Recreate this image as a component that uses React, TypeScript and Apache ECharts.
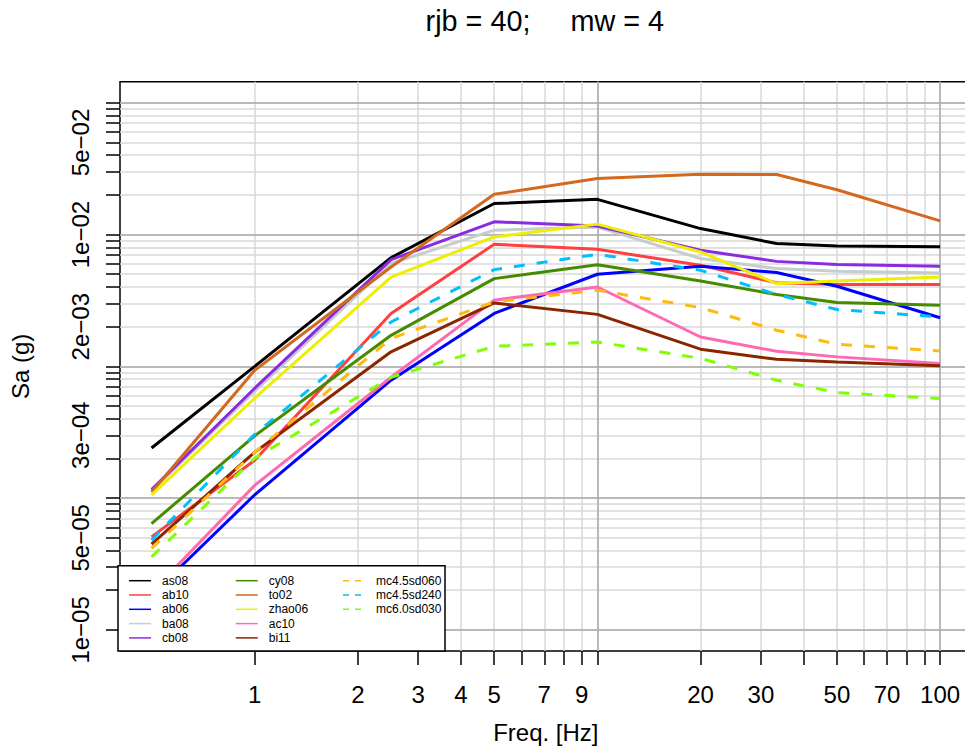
import React, { useEffect, useRef } from 'react';
import * as echarts from 'echarts';

// ---------- data ----------
const titleText = 'rjb = 40;     mw = 4';
const xName = 'Freq. [Hz]';
const yName = 'Sa (g)';

const freqs = [0.5, 1, 2.5, 5, 10, 20, 33.33, 50, 100];

const as08 = [2.4e-4, 1.0e-3, 6.68e-3, 1.72e-2, 1.85e-2, 1.11e-2, 8.55e-3, 8.2e-3, 8.1e-3];
const ab10 = [5.08e-5, 1.94e-4, 2.52e-3, 8.44e-3, 7.73e-3, 5.85e-3, 4.31e-3, 4.18e-3, 4.18e-3];
const ab06 = [1.84e-5, 1.06e-4, 7.85e-4, 2.52e-3, 5.0e-3, 5.74e-3, 5.15e-3, 4.05e-3, 2.34e-3];
const ba08 = [1.14e-4, 6.47e-4, 6.03e-3, 1.08e-2, 1.14e-2, 6.58e-3, 5.52e-3, 5.27e-3, 5.11e-3];
const cb08 = [1.16e-4, 6.82e-4, 6.45e-3, 1.25e-2, 1.16e-2, 7.6e-3, 6.26e-3, 5.92e-3, 5.74e-3];
const cy08 = [6.41e-5, 2.97e-4, 1.72e-3, 4.63e-3, 5.91e-3, 4.45e-3, 3.51e-3, 3.05e-3, 2.91e-3];
const to02 = [1.11e-4, 9.33e-4, 5.68e-3, 2.02e-2, 2.66e-2, 2.87e-2, 2.86e-2, 2.19e-2, 1.27e-2];
const zhao06 = [1.06e-4, 5.73e-4, 4.76e-3, 9.6e-3, 1.2e-2, 7.38e-3, 4.25e-3, 4.45e-3, 4.76e-3];
const ac10 = [1.93e-5, 1.25e-4, 8.26e-4, 3.18e-3, 4.0e-3, 1.67e-3, 1.3e-3, 1.18e-3, 1.05e-3];
const bi11 = [4.47e-5, 2.23e-4, 1.29e-3, 3.03e-3, 2.48e-3, 1.35e-3, 1.13e-3, 1.08e-3, 1.01e-3];
const mc45sd060 = [4.15e-5, 2.23e-4, 1.63e-3, 3.08e-3, 3.78e-3, 2.79e-3, 1.88e-3, 1.47e-3, 1.31e-3];
const mc45sd240 = [4.8e-5, 3.05e-4, 2.17e-3, 5.42e-3, 7.09e-3, 5.36e-3, 3.51e-3, 2.7e-3, 2.37e-3];
const mc60sd030 = [3.58e-5, 2.01e-4, 8.26e-4, 1.42e-3, 1.53e-3, 1.15e-3, 7.85e-4, 6.32e-4, 5.7e-4];

const seriesNames = ['as08', 'ab10', 'ab06', 'ba08', 'cb08', 'cy08', 'to02', 'zhao06', 'ac10', 'bi11', 'mc4.5sd060', 'mc4.5sd240', 'mc6.0sd030'];
const seriesValues = [as08, ab10, ab06, ba08, cb08, cy08, to02, zhao06, ac10, bi11, mc45sd060, mc45sd240, mc60sd030];
const seriesColors = ['#000000', '#FF4040', '#0000FF', '#C5CDCD', '#8A2BE2', '#458B00', '#D2691E', '#EEEE00', '#FF69B4', '#8B2500', '#FFB90F', '#00BFFF', '#7FFF00'];
const seriesDashed = [false, false, false, false, false, false, false, false, false, false, true, true, true];

const legendCol1 = ['as08', 'ab10', 'ab06', 'ba08', 'cb08'];
const legendCol2 = ['cy08', 'to02', 'zhao06', 'ac10', 'bi11'];
const legendCol3 = ['mc4.5sd060', 'mc4.5sd240', 'mc6.0sd030'];

// ticks
const xTickValues = [1, 2, 3, 4, 5, 6, 7, 8, 9, 10, 20, 30, 40, 50, 60, 70, 80, 90, 100];
const xLabelValues = [1, 2, 3, 4, 5, 7, 9, 20, 30, 50, 70, 100];
const xMajorValues = [10, 100];
const yTickValues = [
  1e-5, 2e-5, 3e-5, 4e-5, 5e-5, 6e-5, 7e-5, 8e-5, 9e-5,
  1e-4, 2e-4, 3e-4, 4e-4, 5e-4, 6e-4, 7e-4, 8e-4, 9e-4,
  1e-3, 2e-3, 3e-3, 4e-3, 5e-3, 6e-3, 7e-3, 8e-3, 9e-3,
  1e-2, 2e-2, 3e-2, 4e-2, 5e-2, 6e-2, 7e-2, 8e-2, 9e-2,
  1e-1,
];
const yLabelValues = [1e-5, 5e-5, 3e-4, 2e-3, 1e-2, 5e-2];
const yMajorValues = [1e-5, 1e-4, 1e-3, 1e-2, 1e-1];

// ---------- layout ----------
const FONT = '"Liberation Sans", Arial, Helvetica, sans-serif';
const X_MIN = Math.pow(10, -0.39307);
const X_MAX = Math.pow(10, 2.09204);
const Y_MIN = Math.pow(10, -5.16);
const Y_MAX = Math.pow(10, -0.84);

function sciLabel(v: number): string {
  const s = v.toExponential(0);
  const [m, e] = s.split('e');
  const ex = parseInt(e, 10);
  return m + 'e' + (ex < 0 ? '\u2212' : '+') + String(Math.abs(ex)).padStart(2, '0');
}

export default function App() {
  const ref = useRef<HTMLDivElement>(null);

  useEffect(() => {
    if (!ref.current) return;
    const chart = echarts.init(ref.current, undefined, { renderer: 'svg' });

    const series = seriesNames.map((name, i) => ({
      name,
      type: 'line',
      xAxisIndex: 0,
      yAxisIndex: 0,
      symbol: 'none',
      showSymbol: false,
      z: 2,
      data: freqs.map((f, j) => [f, seriesValues[i][j]]),
      itemStyle: { color: seriesColors[i] },
      lineStyle: {
        color: seriesColors[i],
        width: 3,
        type: seriesDashed[i] ? [11, 12] : 'solid',
        cap: 'butt',
      },
    }));

    const legendCommon = {
      orient: 'vertical',
      top: 574.7,
      itemWidth: 22,
      itemHeight: 12,
      itemGap: 2.3,
      padding: 0,
      selectedMode: false,
      z: 20,
      itemStyle: { opacity: 0 },
      textStyle: { fontSize: 12, fontFamily: FONT, color: '#000', padding: [0, 0, 0, 6] },
    };

    const axisBase = {
      type: 'log',
      logBase: 10,
      axisLine: { show: false },
    };

    chart.setOption({
      animation: false,
      backgroundColor: '#ffffff',
      textStyle: { fontFamily: FONT },
      title: {
        text: titleText,
        left: 544.8,
        textAlign: 'center',
        top: 6,
        padding: 0,
        textStyle: { fontSize: 28.8, fontWeight: 'normal', color: '#000', fontFamily: FONT },
      },
      grid: {
        left: 118,
        top: 81.7,
        right: 0.4,
        bottom: 97.9,
        show: true,
        borderColor: '#000',
        borderWidth: 1.5,
        backgroundColor: 'transparent',
      },
      xAxis: [
        {
          ...axisBase,
          min: X_MIN,
          max: X_MAX,
          position: 'bottom',
          z: 0,
          name: xName,
          nameLocation: 'middle',
          nameGap: 69,
          nameTextStyle: { fontSize: 24, color: '#000', fontFamily: FONT },
          axisTick: { show: true, inside: false, length: 14, customValues: xTickValues, lineStyle: { color: '#000', width: 1.5 } },
          axisLabel: {
            show: true,
            customValues: xLabelValues,
            margin: 31,
            fontSize: 24,
            color: '#000',
            fontFamily: FONT,
            formatter: (v: number) => String(Math.round(v)),
          },
          splitLine: { show: true, lineStyle: { color: '#D9D9D9', width: 1.5 } },
          minorTick: { show: false },
        },
        {
          ...axisBase,
          min: X_MIN,
          max: X_MAX,
          position: 'bottom',
          z: 1,
          axisTick: { show: false, customValues: xMajorValues },
          axisLabel: { show: false },
          splitLine: { show: true, lineStyle: { color: '#ABABAB', width: 1.5 } },
        },
      ],
      yAxis: [
        {
          ...axisBase,
          min: Y_MIN,
          max: Y_MAX,
          position: 'left',
          z: 0,
          name: yName,
          nameLocation: 'middle',
          nameGap: 88,
          nameRotate: 90,
          nameTextStyle: { fontSize: 24, color: '#000', fontFamily: FONT },
          axisTick: { show: true, inside: false, length: 14, customValues: yTickValues, lineStyle: { color: '#000', width: 1.5 } },
          axisLabel: {
            show: true,
            customValues: yLabelValues,
            rotate: 90,
            margin: 28,
            fontSize: 24,
            color: '#000',
            fontFamily: FONT,
            formatter: (v: number) => sciLabel(v),
          },
          splitLine: { show: true, lineStyle: { color: '#D9D9D9', width: 1.5 } },
        },
        {
          ...axisBase,
          min: Y_MIN,
          max: Y_MAX,
          position: 'left',
          z: 1,
          axisTick: { show: false, customValues: yMajorValues },
          axisLabel: { show: false },
          splitLine: { show: true, lineStyle: { color: '#ABABAB', width: 1.5 } },
        },
      ],
      legend: [
        { ...legendCommon, left: 128.3, data: legendCol1, lineStyle: { width: 1.5 } },
        { ...legendCommon, left: 235, data: legendCol2, lineStyle: { width: 1.5 } },
        { ...legendCommon, left: 342.3, data: legendCol3, lineStyle: { width: 1.5, type: [6, 6] } },
      ],
      graphic: [
        {
          type: 'rect',
          z: 10,
          shape: { x: 118, y: 565.7, width: 327, height: 85.3 },
          style: { fill: '#ffffff', stroke: '#000000', lineWidth: 1.5 },
        },
      ],
      series,
    });

    return () => chart.dispose();
  }, []);

  return (
    <div style={{ position: 'absolute', left: 0, top: 0, width: 965, height: 749, overflow: 'hidden' }}>
      <div
        ref={ref}
        style={{ position: 'absolute', left: 0, top: 0, width: 972, height: 749 }}
      />
    </div>
  );
}
